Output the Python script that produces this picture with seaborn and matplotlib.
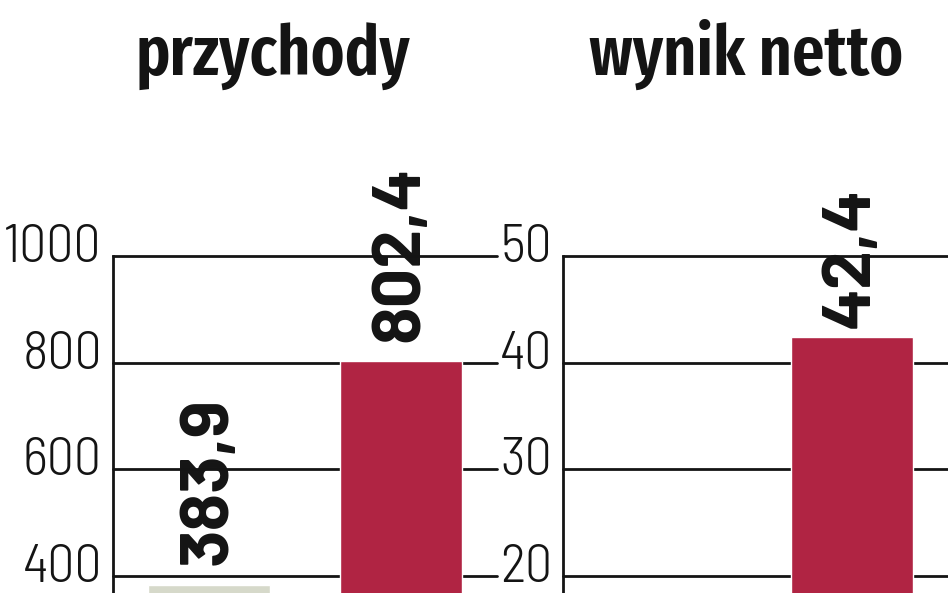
import numpy as np
import pandas as pd
import seaborn as sns
import matplotlib
matplotlib.use("Agg")
import matplotlib.pyplot as plt
from matplotlib.transforms import ScaledTranslation

# data (the first "wynik netto" bar lies below the crop)
periods = ["poprzednio", "obecnie"]
przychody = [383.9, 802.4]
wynik_netto = [np.nan, 42.4]
titles = ["przychody", "wynik netto"]
ticks_left = [400, 600, 800, 1000]
ticks_right = [20, 30, 40, 50]

grey = "#D6D9CA"
red = "#B02443"
ink = "#141414"

sns.set_theme(style="white")
plt.rcParams["font.family"] = ["Barlow Semi Condensed", "DejaVu Sans"]
title_font = ["Fira Sans Extra Condensed", "Barlow Condensed", "DejaVu Sans"]
label_font = ["Barlow", "Barlow Semi Condensed", "DejaVu Sans"]

W, H = 948, 593
fig = plt.figure(figsize=(W / 100, H / 100), dpi=100)


def px_axes(x0, x1, y_top):
    return fig.add_axes([x0 / W, 0, (x1 - x0) / W, 1 - y_top / H])


def panel(ax, values, ticks, ymin, ymax, pad):
    df = pd.DataFrame({"okres": periods, "wartosc": values})
    sns.barplot(data=df, x="okres", y="wartosc", hue="okres",
                palette=[grey, red], width=0.635, legend=False,
                saturation=1, ax=ax)
    ax.set_xlim(-0.5, 1.5)
    ax.set_ylim(ymin, ymax)
    ax.set_xlabel("")
    ax.set_ylabel("")
    ax.set_xticks([])
    ax.set_yticks(ticks)
    ax.set_yticklabels([str(t) for t in ticks], fontweight=300)
    ax.tick_params(axis="y", length=0, pad=8, labelsize=39, labelcolor=ink)
    off = ScaledTranslation(0, 0.13, fig.dpi_scale_trans)
    for lab in ax.get_yticklabels():
        lab.set_transform(lab.get_transform() + off)
    for s in ["top", "right", "bottom"]:
        ax.spines[s].set_visible(False)
    ax.spines["left"].set_color(ink)
    ax.spines["left"].set_linewidth(2)
    ax.set_facecolor("none")
    for t in ticks:
        ax.axhline(t, color=ink, lw=2, zorder=0.5, clip_on=False)
    for cont in ax.containers:
        labs = ["" if np.isnan(v) else f"{v:.1f}".replace(".", ",")
                for v in cont.datavalues]
        ax.bar_label(cont, labels=labs, rotation=90, padding=pad,
                     fontsize=50, fontweight="bold", color=ink,
                     family=label_font, clip_on=False)


ax1 = px_axes(113, 497, 256)
panel(ax1, przychody, ticks_left, 368.4, 1000, 14)
ax2 = px_axes(563, 948, 256)
panel(ax2, wynik_netto, ticks_right, 18.42, 50, 6.5)

for x, t in zip([273, 746], titles):
    fig.text(x / W, 1 - 75 / H, t, ha="center", va="baseline",
             fontsize=50, fontweight=600, color=ink, family=title_font)

fig.savefig("out.png", dpi=100, facecolor="white")
